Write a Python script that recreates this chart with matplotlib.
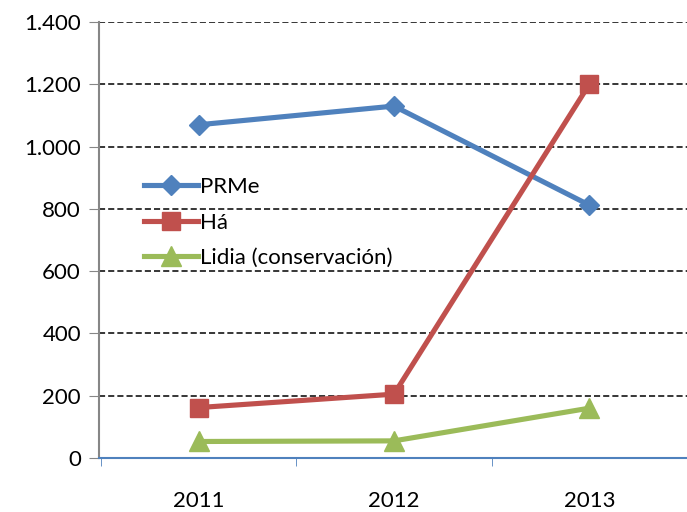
import matplotlib.pyplot as plt
from matplotlib.ticker import FuncFormatter

years = ['2011', '2012', '2013']
prme = [1070, 1130, 812]
ha = [162, 205, 1200]
lidia = [53, 55, 160]

plt.rcParams['font.family'] = ['Lato', 'DejaVu Sans']

fig = plt.figure(figsize=(6.87, 5.12), dpi=100)
ax = fig.add_axes([99 / 687, 54 / 512, 1 - 99 / 687, (458 - 22) / 512])

x = list(range(len(years)))
ax.plot(x, prme, color='#4F81BD', lw=3.7, marker='D', ms=10, label='PRMe')
ax.plot(x, ha, color='#C0504D', lw=3.7, marker='s', ms=13, label='Há')
ax.plot(x, lidia, color='#9BBB59', lw=3.7, marker='^', ms=14, label='Lidia (conservación)')

ax.set_xlim(-0.51, 2.47)
ax.set_ylim(0, 1400)
ax.set_yticks(range(0, 1401, 200))
ax.yaxis.set_major_formatter(FuncFormatter(lambda v, p: f'{int(v):,}'.replace(',', '.')))
ax.grid(axis='y', color='black', ls=(0, (4, 2)), lw=1.1)
ax.set_axisbelow(True)

ax.set_xticks(x)
ax.set_xticklabels(years)
ax.set_xticks([-0.5, 0.5, 1.5, 2.5], minor=True)
ax.tick_params(axis='x', which='major', length=0, pad=24, labelsize=16)
ax.tick_params(axis='x', which='minor', length=6, color='#4F81BD', direction='out')
ax.tick_params(axis='y', length=7, color='#868686', labelsize=16, pad=6)

for s in ['top', 'right']:
    ax.spines[s].set_visible(False)
ax.spines['left'].set_color('#868686')
ax.spines['left'].set_linewidth(1.5)
ax.spines['bottom'].set_color('#4F81BD')
ax.spines['bottom'].set_linewidth(1.5)
ax.spines['bottom'].set_zorder(5)

leg = ax.legend(loc='upper left', bbox_to_anchor=(0.062, 0.665), frameon=False,
                fontsize=16, handlelength=2.4, handletextpad=0.1,
                labelspacing=0.7, borderaxespad=0)

fig.savefig('out.png', dpi=100)
